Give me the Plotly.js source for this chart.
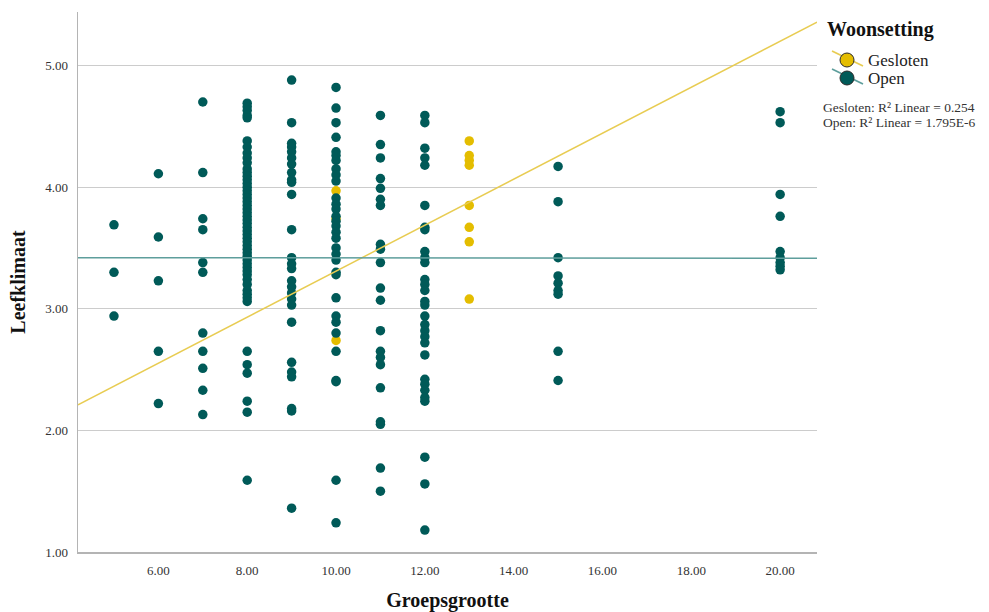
<!DOCTYPE html>
<html>
<head>
<meta charset="utf-8">
<script src="https://cdn.plot.ly/plotly-3.0.1.min.js"></script>
<style>html,body{margin:0;padding:0;background:#fff;}#chart{width:989px;height:612px;}</style>
</head>
<body>
<div id="chart"></div>
<script>
// ---- Data ----
const xTickVals = [6, 8, 10, 12, 14, 16, 18, 20];
const xTickText = ['6.00', '8.00', '10.00', '12.00', '14.00', '16.00', '18.00', '20.00'];
const yTickVals = [1, 2, 3, 4, 5];
const yTickText = ['1.00', '2.00', '3.00', '4.00', '5.00'];

// Open (Woonsetting = Open): Leefklimaat per Groepsgrootte
const open5  = [3.69, 3.30, 2.94];
const open6  = [4.11, 3.59, 3.23, 2.65, 2.22];
const open7  = [4.70, 4.12, 3.74, 3.65, 3.38, 3.30, 2.80, 2.65, 2.51, 2.33, 2.13];
const open8  = [4.69, 4.66, 4.63, 4.59, 4.57, 4.38, 4.33, 4.28, 4.24, 4.20, 4.15, 4.12, 4.09, 4.06, 4.03,
                4.00, 3.97, 3.94, 3.91, 3.88, 3.85, 3.82, 3.79, 3.76, 3.73, 3.70, 3.67, 3.64, 3.61, 3.58,
                3.55, 3.52, 3.49, 3.46, 3.43, 3.40, 3.37, 3.34, 3.31, 3.28, 3.24, 3.20, 3.15, 3.12, 3.09,
                3.06, 2.65, 2.54, 2.47, 2.24, 2.15, 1.59];
const open9  = [4.88, 4.53, 4.36, 4.33, 4.29, 4.24, 4.19, 4.12, 4.06, 4.04, 3.94, 3.65, 3.42, 3.37, 3.33,
                3.23, 3.18, 3.13, 3.08, 3.03, 2.89, 2.56, 2.48, 2.44, 2.18, 2.16, 1.36];
const open10 = [4.82, 4.65, 4.53, 4.41, 4.29, 4.26, 4.22, 4.15, 4.10, 4.05, 3.91, 3.86, 3.82, 3.76, 3.72,
                3.68, 3.63, 3.58, 3.50, 3.45, 3.40, 3.30, 3.28, 3.09, 2.94, 2.89, 2.80, 2.65, 2.41, 2.40,
                1.59, 1.24];
const open11 = [4.59, 4.35, 4.24, 4.07, 3.99, 3.90, 3.85, 3.53, 3.49, 3.38, 3.17, 3.07, 2.82, 2.65, 2.60,
                2.54, 2.35, 2.07, 2.05, 1.69, 1.50];
const open12 = [4.59, 4.53, 4.32, 4.24, 4.18, 3.85, 3.67, 3.65, 3.47, 3.42, 3.38, 3.24, 3.20, 3.15, 3.06,
                3.03, 2.94, 2.87, 2.82, 2.77, 2.72, 2.62, 2.42, 2.38, 2.33, 2.27, 2.24, 1.78, 1.56, 1.18];
const open15 = [4.17, 3.88, 3.42, 3.27, 3.21, 3.15, 3.12, 2.65, 2.41];
const open20 = [4.62, 4.53, 3.94, 3.76, 3.47, 3.42, 3.38, 3.35, 3.32];

// Gesloten (Woonsetting = Gesloten)
const gesloten10 = [3.97, 3.74, 2.74];
const gesloten13 = [4.38, 4.26, 4.22, 4.18, 3.85, 3.67, 3.55, 3.08];

// Linear fit lines (intercept, slope)
const geslotenFit = [1.418, 0.1891];
const openFit = [3.4213, -0.0003];

const r2Labels = ['Gesloten: R\u00B2 Linear = 0.254', 'Open: R\u00B2 Linear = 1.795E-6'];
const seriesNames = ['Gesloten', 'Open'];

// ---- Build traces ----
function flatten(groups) {
  const xs = [], ys = [];
  groups.forEach(([x, vals]) => vals.forEach(v => { xs.push(x); ys.push(v); }));
  return {xs, ys};
}
const openPts = flatten([[5, open5], [6, open6], [7, open7], [8, open8], [9, open9], [10, open10],
                         [11, open11], [12, open12], [15, open15], [20, open20]]);
const geslPts = flatten([[10, gesloten10], [13, gesloten13]]);

const xRange = [4.19, 20.83];
const yRange = [1.0, 5.44];

const colGesl = '#e4bd00';
const colOpen = '#005a58';
const colGeslLine = '#e8cc52';
const colOpenLine = '#5e9e9c';

const traces = [
  {type: 'scatter', mode: 'markers', x: geslPts.xs, y: geslPts.ys, name: seriesNames[0],
   marker: {color: colGesl, size: 9.5, line: {width: 0}}, showlegend: false, hoverinfo: 'x+y'},
  {type: 'scatter', mode: 'markers', x: openPts.xs, y: openPts.ys, name: seriesNames[1],
   marker: {color: colOpen, size: 9.5, line: {width: 0}}, showlegend: false, hoverinfo: 'x+y'},
  {type: 'scatter', mode: 'lines', x: xRange, y: xRange.map(x => geslotenFit[0] + geslotenFit[1] * x),
   line: {color: colGeslLine, width: 1.5}, showlegend: false, hoverinfo: 'skip'},
  {type: 'scatter', mode: 'lines', x: xRange, y: xRange.map(x => openFit[0] + openFit[1] * x),
   line: {color: colOpenLine, width: 1.5}, showlegend: false, hoverinfo: 'skip'}
];

// ---- Layout ----
const L = 78, Rr = 817, T = 12, B = 552;
const W = Rr - L, H = B - T;
const px = p => (p - L) / W;
const py = p => (B - p) / H;

const serif = '"Liberation Serif", "Times New Roman", serif';

function legendItem(cy, fill, lineCol) {
  return [
    {type: 'line', xref: 'paper', yref: 'paper', x0: px(832), y0: py(cy - 9), x1: px(863), y1: py(cy + 6),
     line: {color: lineCol, width: 1.8}},
    {type: 'circle', xref: 'paper', yref: 'paper', x0: px(840), x1: px(854), y0: py(cy + 7), y1: py(cy - 7),
     fillcolor: fill, line: {color: '#2a2a2a', width: 1}}
  ];
}

const layout = {
  width: 989, height: 612,
  margin: {l: L, r: 989 - Rr, t: T, b: 612 - B},
  paper_bgcolor: '#ffffff', plot_bgcolor: '#ffffff',
  showlegend: false,
  font: {family: serif, color: '#333333'},
  xaxis: {
    range: xRange, tickvals: xTickVals, ticktext: xTickText,
    showgrid: false, zeroline: false, showline: true, linecolor: '#b4b4b4', linewidth: 1.5,
    ticks: '', tickfont: {family: serif, size: 13, color: '#333333'}, ticklabelstandoff: 6,
    title: {text: 'Groepsgrootte', font: {family: serif, size: 20, color: '#111111', weight: 'bold'}, standoff: 18}
  },
  yaxis: {
    range: yRange, tickvals: yTickVals, ticktext: yTickText,
    showgrid: true, gridcolor: '#cccccc', gridwidth: 1, zeroline: false,
    showline: true, linecolor: '#b4b4b4', linewidth: 1.5,
    ticks: '', tickfont: {family: serif, size: 13, color: '#333333'}, ticklabelstandoff: 6,
    title: {text: 'Leefklimaat', font: {family: serif, size: 20, color: '#111111', weight: 'bold'}, standoff: 14}
  },
  shapes: [].concat(legendItem(60, colGesl, colGeslLine), legendItem(78, colOpen, colOpenLine)),
  annotations: [
    {xref: 'paper', yref: 'paper', x: px(825), y: py(30), xanchor: 'left', yanchor: 'middle', showarrow: false,
     text: '<b>Woonsetting</b>', font: {family: serif, size: 20, color: '#111111'}},
    {xref: 'paper', yref: 'paper', x: px(866), y: py(60), xanchor: 'left', yanchor: 'middle', showarrow: false,
     text: seriesNames[0], font: {family: serif, size: 17, color: '#222222'}},
    {xref: 'paper', yref: 'paper', x: px(866), y: py(78), xanchor: 'left', yanchor: 'middle', showarrow: false,
     text: seriesNames[1], font: {family: serif, size: 17, color: '#222222'}},
    {xref: 'paper', yref: 'paper', x: px(821), y: py(107), xanchor: 'left', yanchor: 'middle', showarrow: false,
     text: r2Labels[0], font: {family: serif, size: 13.5, color: '#333333'}},
    {xref: 'paper', yref: 'paper', x: px(821), y: py(122), xanchor: 'left', yanchor: 'middle', showarrow: false,
     text: r2Labels[1], font: {family: serif, size: 13.5, color: '#333333'}}
  ]
};

Plotly.newPlot('chart', traces, layout, {displayModeBar: false, staticPlot: true});
</script>
</body>
</html>
